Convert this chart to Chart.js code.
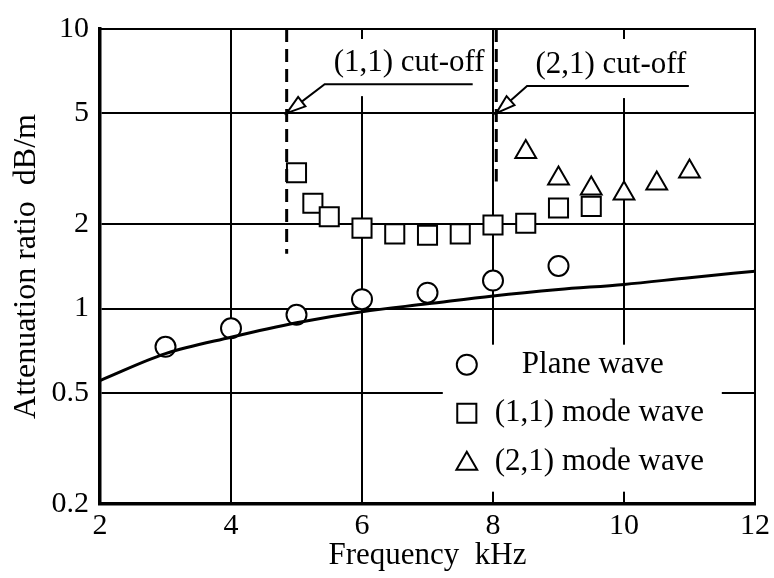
<!DOCTYPE html>
<html>
<head>
<meta charset="utf-8">
<script src="https://cdn.jsdelivr.net/npm/chart.js@4"></script>
<style>
html, body { margin: 0; padding: 0; background: #fff; }
</style>
</head>
<body>
<canvas id="myChart" width="774" height="578"></canvas>
<script>
// values
const freqPlane = [3, 4, 5, 6, 7, 8, 9]
const attPlane = [0.73, 0.85, 0.95, 1.08, 1.14, 1.26, 1.42]

const freqMode11 = [5, 5.25, 5.5, 6, 6.5, 7, 7.5, 8, 8.5, 9, 9.5]
const attMode11 = [3.06, 2.38, 2.13, 1.94, 1.85, 1.83, 1.85, 1.99, 2.02, 2.29, 2.32]

const freqMode21 = [8.5, 9, 9.5, 10, 10.5, 11]
const attMode21 = [3.63, 2.92, 2.69, 2.58, 2.80, 3.09]

const freqTheory = [2, 3, 4, 5, 6, 7, 8, 9, 10, 11, 12]
const attTheory = [0.553, 0.69, 0.79, 0.89, 0.975, 1.04, 1.11, 1.17, 1.22, 1.29, 1.36]

const cutoffFreq = [4.85, 8.05]
const cutoffLow = [1.57, 2.85]
const cutoffLabels = ['(1,1) cut-off', '(2,1) cut-off']

const xTicks = [2, 4, 6, 8, 10, 12]
const yTicks = [0.2, 0.5, 1, 2, 5, 10]

const serif = '"Liberation Serif", "DejaVu Serif", serif'

const pts = (xs, ys) => xs.map((x, i) => ({ x: x, y: ys[i] }))

// draw one marker shape (same shapes as chart.js point styles)
function marker(c, style, x, y, r) {
    c.beginPath()
    if (style == 'circle') {
        c.arc(x, y, r, 0, Math.PI * 2)
    } else if (style == 'rect') {
        let s = Math.SQRT1_2 * r
        c.rect(x - s, y - s, 2 * s, 2 * s)
    } else {
        c.moveTo(x, y - r)
        c.lineTo(x + 0.866 * r, y + r / 2)
        c.lineTo(x - 0.866 * r, y + r / 2)
        c.closePath()
    }
    c.fillStyle = '#fff'
    c.fill()
    c.lineWidth = 2
    c.strokeStyle = '#000'
    c.stroke()
}

// frame, cut-off notes and legend
const extras = {
    id: 'extras',
    afterDatasetsDraw(chart) {
        const c = chart.ctx
        const xs = chart.scales.x
        const ys = chart.scales.y
        const area = chart.chartArea
        c.save()

        // thin top / right frame
        c.strokeStyle = '#000'
        c.lineWidth = 2
        c.beginPath()
        c.moveTo(area.left, area.top)
        c.lineTo(area.right, area.top)
        c.lineTo(area.right, area.bottom)
        c.stroke()

        // cut-off notes
        const notes = [
            { from: 5.43, to: 7.69, lineY: 6.35, textX: 6.72 },
            { from: 8.52, to: 10.99, lineY: 6.25, textX: 9.8 }
        ]
        notes.forEach((n, i) => {
            let x0 = xs.getPixelForValue(n.from)
            let x1 = xs.getPixelForValue(n.to)
            let ly = ys.getPixelForValue(n.lineY)
            let tx = xs.getPixelForValue(cutoffFreq[i])
            let ty = ys.getPixelForValue(5)

            c.fillStyle = '#fff'
            c.fillRect(x0 - 6, area.top + 10, x1 - x0 + 10, ly - area.top + 2)

            c.fillStyle = '#000'
            c.font = '31px ' + serif
            c.textAlign = 'center'
            c.textBaseline = 'middle'
            c.fillText(cutoffLabels[i], xs.getPixelForValue(n.textX), ly - 21)

            c.lineWidth = 2
            c.beginPath()
            c.moveTo(x1, ly)
            c.lineTo(x0, ly)
            c.lineTo(tx, ty)
            c.stroke()

            // open arrow head
            let dx = x0 - tx, dy = ly - ty
            let len = Math.sqrt(dx * dx + dy * dy)
            let ux = dx / len, uy = dy / len
            let bx = tx + ux * 19, by = ty + uy * 19
            c.beginPath()
            c.moveTo(tx, ty)
            c.lineTo(bx - uy * 6, by + ux * 6)
            c.lineTo(bx + uy * 6, by - ux * 6)
            c.closePath()
            c.fillStyle = '#fff'
            c.fill()
            c.stroke()
        })

        // legend
        let lx = xs.getPixelForValue(7.6)
        let ly = ys.getPixelForValue(0.63)
        c.fillStyle = '#fff'
        c.fillRect(lx - 24, ly - 20, 279, 147)
        let items = chart.data.datasets.filter(d => d.inLegend)
        items.forEach((d, i) => {
            let y = ly + i * 48.5
            marker(c, d.pointStyle, lx, y + (d.pointStyle == 'triangle' ? 2 : 0), d.pointRadius)
            c.fillStyle = '#000'
            c.font = '31px ' + serif
            c.textAlign = 'left'
            c.textBaseline = 'middle'
            c.fillText(d.label, lx + (i == 0 ? 55 : 28), y)
        })

        c.restore()
    }
}

let datasets = [{
    label: 'theory',
    data: pts(freqTheory, attTheory),
    showLine: true,
    borderColor: '#000',
    borderWidth: 3,
    pointRadius: 0,
    tension: 0.4,
    cubicInterpolationMode: 'monotone'
}]

cutoffFreq.forEach((f, i) => {
    datasets.push({
        label: cutoffLabels[i],
        data: [{ x: f, y: 10 }, { x: f, y: cutoffLow[i] }],
        showLine: true,
        borderColor: '#000',
        borderWidth: 3,
        borderDash: [13, 7],
        pointRadius: 0
    })
})

datasets.push({
    label: 'Plane wave',
    inLegend: true,
    data: pts(freqPlane, attPlane),
    pointStyle: 'circle',
    pointRadius: 10,
    borderWidth: 2,
    borderColor: '#000',
    backgroundColor: '#fff'
})
datasets.push({
    label: '(1,1) mode wave',
    inLegend: true,
    data: pts(freqMode11, attMode11),
    pointStyle: 'rect',
    pointRadius: 13.5,
    borderWidth: 2,
    borderColor: '#000',
    backgroundColor: '#fff'
})
datasets.push({
    label: '(2,1) mode wave',
    inLegend: true,
    data: pts(freqMode21, attMode21),
    pointStyle: 'triangle',
    pointRadius: 12,
    borderWidth: 2,
    borderColor: '#000',
    backgroundColor: '#fff'
})

const ctx = document.getElementById('myChart').getContext('2d')

let myChart = new Chart(ctx, {
    type: 'scatter',
    data: { datasets: datasets },
    options: {
        responsive: false,
        animation: false,
        events: [],
        layout: { padding: { top: 21, right: 17, left: 0, bottom: 0 } },
        plugins: {
            legend: { display: false },
            tooltip: { enabled: false }
        },
        scales: {
            x: {
                type: 'linear',
                min: 2,
                max: 12,
                afterBuildTicks: s => { s.ticks = xTicks.map(v => ({ value: v })) },
                afterFit: s => { s.height = 74 },
                grid: { color: '#000', lineWidth: 2, drawTicks: false },
                border: { display: true, color: '#000', width: 3.5 },
                ticks: { color: '#000', padding: 4, font: { family: serif, size: 30 } },
                title: {
                    display: true,
                    text: 'Frequency  kHz',
                    color: '#000',
                    font: { family: serif, size: 31 },
                    padding: { top: 0, bottom: 4 }
                }
            },
            y: {
                type: 'logarithmic',
                min: 0.2,
                max: 10,
                afterBuildTicks: s => { s.ticks = yTicks.map(v => ({ value: v })) },
                afterFit: s => { s.width = 100 },
                grid: { color: '#000', lineWidth: 2, drawTicks: false },
                border: { display: true, color: '#000', width: 3.5 },
                ticks: {
                    color: '#000',
                    padding: 11,
                    font: { family: serif, size: 30 },
                    callback: v => String(v)
                },
                title: {
                    display: true,
                    text: 'Attenuation ratio  dB/m',
                    color: '#000',
                    font: { family: serif, size: 32 },
                    padding: { top: 7, bottom: 0 }
                }
            }
        }
    },
    plugins: [extras]
})
</script>
</body>
</html>
